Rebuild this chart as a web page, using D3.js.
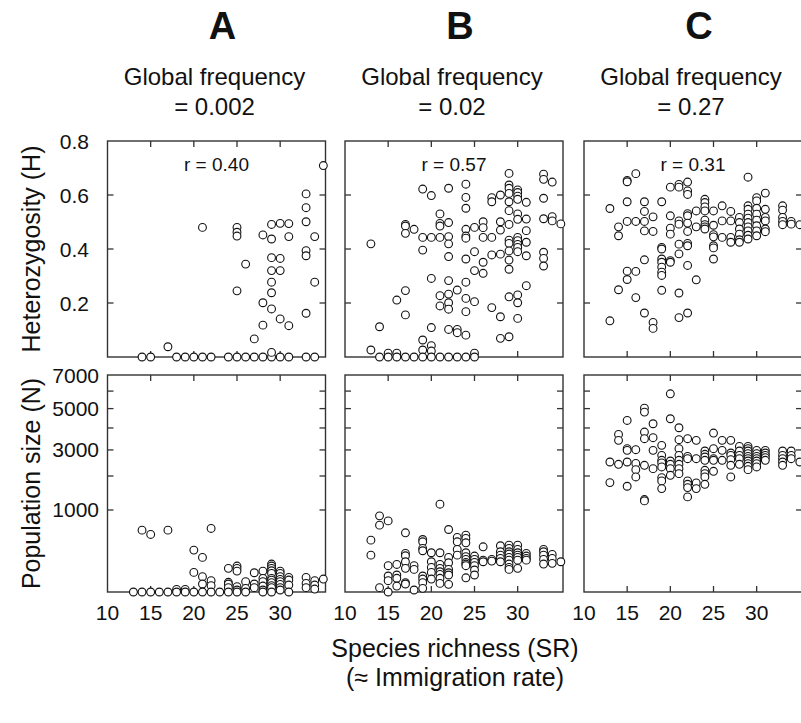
<!DOCTYPE html>
<html><head><meta charset="utf-8">
<script src="https://cdn.jsdelivr.net/npm/d3@7"></script>
<style>body{margin:0;background:#fff}text{font-family:"Liberation Sans",Arial,Helvetica,sans-serif;fill:#111}</style>
</head><body>
<svg id="c" width="801" height="723"></svg>
<script>
// ---------------- data ----------------
const panelLetters = ["A", "B", "C"];
const freqLabels = ["= 0.002", "= 0.02", "= 0.27"];
const rLabels = ["r = 0.40", "r = 0.57", "r = 0.31"];
const xTickValues = [10, 15, 20, 25, 30];
const hTickLabels = [0.2, 0.4, 0.6, 0.8];
const nTickLabels = [1000, 3000, 5000, 7000];
const nMinorTicks = [2000, 4000, 6000];

// Heterozygosity, [SR, H]
const hetA = [
 [14,0],[15,0],[17,0.038],[18,0],[19,0],[20,0],[21,0],[22,0],[21,0.48],
 [24,0],[25,0],[26,0],[27,0],[28,0],[29,0],[30,0],[31,0],[33,0],[34,0],
 [25,0.48],[25,0.462],[25,0.448],[25,0.245],[26,0.344],[27,0.067],
 [28,0.452],[28,0.201],[28,0.118],
 [29,0.491],[29,0.437],[29,0.368],[29,0.32],[29,0.277],[29,0.238],[29,0.178],[29,0.017],
 [30,0.495],[30,0.365],[30,0.32],[30,0.141],
 [31,0.494],[31,0.446],[31,0.116],
 [33,0.604],[33,0.553],[33,0.501],[33,0.394],[33,0.375],[33,0.162],
 [34,0.446],[34,0.277],[35,0.709]
];
const hetB = [
 [13,0.419],[13,0.026],[14,0.112],[14,0],[15,0.014],[15,0],[16,0.211],[16,0.014],[16,0],
 [17,0.491],[17,0.485],[17,0.458],[17,0.246],[17,0.156],[17,0],
 [18,0.473],[18,0],
 [19,0.622],[19,0.443],[19,0.396],[19,0.063],[19,0.026],[19,0],
 [20,0.598],[20,0.443],[20,0.291],[20,0.109],[20,0.042],[20,0.022],[20,0],
 [21,0.53],[21,0.495],[21,0.485],[21,0.443],[21,0.227],[21,0.189],[21,0],
 [22,0.625],[22,0.498],[22,0.446],[22,0.419],[22,0.372],[22,0.283],[22,0.233],[22,0.201],[22,0.177],[22,0.102],[22,0],
 [23,0.248],[23,0.102],[23,0.09],[23,0],
 [24,0.64],[24,0.591],[24,0.551],[24,0.473],[24,0.448],[24,0.44],[24,0.363],[24,0.277],[24,0.217],[24,0.168],[24,0.081],[24,0],
 [25,0.48],[25,0.39],[25,0.32],[25,0.205],[25,0.014],[25,0],
 [26,0.501],[26,0.479],[26,0.443],[26,0.351],[26,0.31],
 [27,0.59],[27,0.575],[27,0.443],[27,0.378],[27,0.183],
 [28,0.6],[28,0.501],[28,0.47],[28,0.381],[28,0.149],[28,0.069],
 [29,0.68],[29,0.637],[29,0.625],[29,0.606],[29,0.575],[29,0.542],[29,0.491],[29,0.433],[29,0.421],[29,0.393],[29,0.359],[29,0.325],[29,0.223],[29,0.075],
 [30,0.619],[30,0.609],[30,0.596],[30,0.584],[30,0.53],[30,0.51],[30,0.443],[30,0.431],[30,0.417],[30,0.406],[30,0.39],[30,0.23],[30,0.201],[30,0.143],
 [31,0.573],[31,0.511],[31,0.468],[31,0.425],[31,0.375],[31,0.264],
 [33,0.677],[33,0.658],[33,0.588],[33,0.512],[33,0.388],[33,0.365],[33,0.337],
 [34,0.648],[34,0.52],[34,0.504],[35,0.493]
];
const hetC = [
 [13,0.55],[13,0.134],[14,0.482],[14,0.449],[14,0.249],
 [15,0.654],[15,0.649],[15,0.575],[15,0.502],[15,0.318],[15,0.287],
 [16,0.679],[16,0.502],[16,0.317],[16,0.22],
 [17,0.575],[17,0.539],[17,0.502],[17,0.467],[17,0.36],[17,0.163],
 [18,0.519],[18,0.465],[18,0.128],[18,0.106],
 [19,0.575],[19,0.406],[19,0.4],[19,0.363],[19,0.351],[19,0.333],[19,0.314],[19,0.302],[19,0.247],
 [20,0.629],[20,0.523],[20,0.477],[20,0.455],[20,0.357],[20,0.351],
 [21,0.639],[21,0.629],[21,0.504],[21,0.492],[21,0.418],[21,0.382],[21,0.237],[21,0.146],
 [22,0.648],[22,0.615],[22,0.602],[22,0.531],[22,0.523],[22,0.496],[22,0.465],[22,0.421],[22,0.412],[22,0.339],[22,0.163],
 [23,0.541],[23,0.482],[23,0.286],
 [24,0.584],[24,0.572],[24,0.556],[24,0.541],[24,0.507],[24,0.49],[24,0.482],[24,0.474],
 [25,0.541],[25,0.488],[25,0.453],[25,0.445],[25,0.412],[25,0.404],[25,0.363],
 [26,0.56],[26,0.504],[26,0.443],
 [27,0.539],[27,0.504],[27,0.443],[27,0.425],
 [28,0.517],[28,0.498],[28,0.474],[28,0.455],[28,0.434],[28,0.425],
 [29,0.666],[29,0.56],[29,0.547],[29,0.529],[29,0.514],[29,0.498],[29,0.482],[29,0.467],[29,0.451],[29,0.437],
 [30,0.59],[30,0.578],[30,0.551],[30,0.529],[30,0.507],[30,0.486],[30,0.467],[30,0.449],
 [31,0.607],[31,0.547],[31,0.517],[31,0.504],[31,0.474],[31,0.464],
 [33,0.56],[33,0.544],[33,0.517],[33,0.502],[33,0.49],
 [34,0.502],[34,0.492],[35,0.49]
];

// Population size, [SR, N]
const popA = [
 [13,0],[14,569],[14,0],[15,492],[15,0],[16,0],[17,569],[17,0],[18,1],[18,0],[19,1],[19,0],
 [20,261],[20,57],[20,0],[21,178],[21,35],[21,9.5],[21,0],[22,600],[22,19],[22,6],[22,0],[23,0],
 [24,83],[24,14],[24,9.5],[24,2.8],[24,0],
 [25,100],[25,83],[25,65],[25,4.2],[25,0.6],[25,0],
 [26,15.8],[26,2],[26,0],[27,55],[27,9.5],[27,2.8],
 [28,65],[28,27.6],[28,15.8],[28,5.3],[28,0.6],[28,0],
 [29,116],[29,100],[29,83],[29,67],[29,51.5],[29,27.6],[29,21],[29,12.9],[29,6],[29,2.8],[29,0],
 [30,65],[30,51.5],[30,34.8],[30,23.7],[30,15.8],[30,8.7],[30,2.8],[30,0.6],
 [31,31.8],[31,21.3],[31,7.2],[31,0],
 [33,31.8],[33,11],[33,2.8],[34,19],[34,7.2],[34,1.3],[35,25]
];
const popB = [
 [13,400],[13,202],[14,862],[14,664],[14,2.8],
 [15,752],[15,103],[15,38],[15,19],[15,0],
 [16,113],[16,43],[16,28],[16,5.3],
 [17,521],[17,221],[17,195],[17,136],[17,83],[17,13],[17,9.5],
 [18,103],[18,76],[18,0.6],
 [19,410],[19,375],[19,282],[19,253],[19,38],[19,25],[19,13],[19,2],
 [20,229],[20,136],[20,90],[20,57],[20,25],
 [21,1146],[21,229],[21,113],[21,83],[21,61],[21,46],[21,28],[21,11],
 [22,581],[22,178],[22,127],[22,76],[22,55],[22,43],[22,8.7],
 [23,442],[23,375],[23,269],[23,202],
 [24,481],[24,426],[24,360],[24,229],[24,185],[24,158],[24,130],[24,116],[24,103],[24,30],
 [25,192],[25,158],[25,130],[25,103],[25,72],[25,43],
 [26,304],[26,151],[26,136],[27,158],[27,142],
 [28,318],[28,241],[28,202],[28,168],[28,136],
 [29,327],[29,282],[29,241],[29,214],[29,178],[29,151],[29,116],[29,90],[29,76],
 [30,327],[30,269],[30,229],[30,202],[30,178],[30,151],[30,83],
 [31,221],[31,192],[31,168],[31,151],
 [33,269],[33,241],[33,202],[33,158],[33,116],
 [34,210],[34,168],[34,122],[35,136]
];
const popC = [
 [13,2513],[13,1779],[14,3693],[14,3418],[14,2424],
 [15,4376],[15,3053],[15,2983],[15,2513],[15,1662],
 [16,3011],[16,2459],[16,2226],[16,1968],
 [17,5027],[17,4811],[17,3803],[17,3493],[17,2386],[17,1270],[17,1234],
 [18,4208],[18,3540],[18,2983],[18,2262],
 [19,3196],[19,2776],[19,2578],[19,2475],[19,2324],[19,1945],[19,1833],[19,1590],
 [20,5839],[20,4462],[20,2551],[20,2424],[20,2262],[20,2025],
 [21,4011],[21,3448],[21,3053],[21,2776],[21,2578],[21,2424],[21,2262],[21,2083],
 [22,3493],[22,2736],[22,2642],[22,1833],[22,1725],[22,1621],[22,1344],
 [23,3418],[23,2642],[23,1768],[23,1590],
 [24,2955],[24,2818],[24,2709],[24,2578],[24,2202],[24,2083],[24,1968],[24,1725],
 [25,3755],[25,3053],[25,2642],[25,2578],[25,2166],
 [26,3418],[26,2983],[26,2578],
 [27,3418],[27,2872],[27,2776],[27,2604],[27,2386],[27,1968],
 [28,3152],[28,2955],[28,2776],[28,2642],[28,2424],
 [29,3152],[29,3053],[29,2955],[29,2845],[29,2736],[29,2642],[29,2551],[29,2449],[29,2349],[29,2226],
 [30,2983],[30,2845],[30,2736],[30,2642],[30,2551],[30,2449],[30,2324],
 [31,2983],[31,2872],[31,2776],[31,2682],[31,2578],
 [33,2955],[33,2776],[33,2642],[33,2513],[33,2386],
 [34,2955],[34,2776],[34,2642],[35,2513]
];

// ---------------- drawing ----------------
const svg = d3.select("#c");
const panelLeft = [107.5, 345, 584];
const panelW = 218;
const xDomain = [10, 35.25];
const topRow = {y0: 141, y1: 357};
const botRow = {y0: 375, y1: 592};
const tickLen = 6;

const hetData = [hetA, hetB, hetC];
const popData = [popA, popB, popC];

function frame(g, x, y, xt, yt) {
  const [xa, xb] = x.range(), [ya, yb] = [y.range()[1], y.range()[0]];
  g.append("rect").attr("x", xa).attr("y", ya).attr("width", xb - xa).attr("height", yb - ya)
    .attr("fill", "none").attr("stroke", "#333").attr("stroke-width", 1.4);
  xt.forEach(v => {
    const px = x(v);
    g.append("line").attr("x1", px).attr("x2", px).attr("y1", yb).attr("y2", yb - tickLen).attr("stroke", "#333").attr("stroke-width", 1.3);
    g.append("line").attr("x1", px).attr("x2", px).attr("y1", ya).attr("y2", ya + tickLen).attr("stroke", "#333").attr("stroke-width", 1.3);
  });
  yt.forEach(v => {
    const py = y(v);
    g.append("line").attr("x1", xa).attr("x2", xa + tickLen).attr("y1", py).attr("y2", py).attr("stroke", "#333").attr("stroke-width", 1.3);
    g.append("line").attr("x1", xb).attr("x2", xb - tickLen).attr("y1", py).attr("y2", py).attr("stroke", "#333").attr("stroke-width", 1.3);
  });
}

function dots(g, data, x, y) {
  g.selectAll("circle.d").data(data).join("circle").attr("class", "d")
    .attr("cx", d => x(d[0])).attr("cy", d => y(d[1])).attr("r", 3.9)
    .attr("fill", "#fff").attr("stroke", "#111").attr("stroke-width", 1.1);
}

panelLeft.forEach((left, i) => {
  const x = d3.scaleLinear().domain(xDomain).range([left, left + panelW]);
  const yH = d3.scaleLinear().domain([0, 0.8]).range([topRow.y1, topRow.y0]);
  const yN = d3.scaleSqrt().domain([0, 7000]).range([botRow.y1, botRow.y0]);
  const cx = left + panelW / 2;

  // headings
  svg.append("text").attr("x", cx + 6).attr("y", 39).attr("text-anchor", "middle")
    .style("font-size", "38px").style("font-weight", "bold").text(panelLetters[i]);
  svg.append("text").attr("x", cx - 2).attr("y", 85).attr("text-anchor", "middle")
    .style("font-size", "24px").text("Global frequency");
  svg.append("text").attr("x", cx - 2).attr("y", 115).attr("text-anchor", "middle")
    .style("font-size", "24px").text(freqLabels[i]);

  const gt = svg.append("g");
  frame(gt, x, yH, xTickValues.slice(1), [0.2, 0.4, 0.6]);
  gt.append("text").attr("x", cx).attr("y", 171).attr("text-anchor", "middle")
    .style("font-size", "19px").text(rLabels[i]);
  dots(gt, hetData[i], x, yH);

  const gb = svg.append("g");
  frame(gb, x, yN, xTickValues.slice(1), nTickLabels.slice(0, 3).concat(nMinorTicks));
  dots(gb, popData[i], x, yN);

  // x tick labels
  xTickValues.forEach(v => {
    svg.append("text").attr("x", x(v)).attr("y", 620).attr("text-anchor", "middle")
      .style("font-size", "21px").text(v);
  });

  if (i === 0) {
    hTickLabels.forEach(v => {
      svg.append("text").attr("x", 89).attr("y", yH(v) + 7.5).attr("text-anchor", "end")
        .style("font-size", "21px").text(v.toFixed(1));
    });
    nTickLabels.forEach(v => {
      svg.append("text").attr("x", 99).attr("y", yN(v) + 7.5).attr("text-anchor", "end")
        .style("font-size", "21px").text(v);
    });
    svg.append("text").attr("transform", `translate(40,${(topRow.y0 + topRow.y1) / 2}) rotate(-90)`)
      .attr("text-anchor", "middle").style("font-size", "25px").text("Heterozygosity (H)");
    svg.append("text").attr("transform", `translate(40,${(botRow.y0 + botRow.y1) / 2}) rotate(-90)`)
      .attr("text-anchor", "middle").style("font-size", "25px").text("Population size (N)");
  }
});

svg.append("text").attr("x", 455).attr("y", 657).attr("text-anchor", "middle")
  .style("font-size", "25px").text("Species richness (SR)");
svg.append("text").attr("x", 455).attr("y", 686).attr("text-anchor", "middle")
  .style("font-size", "25px").text("(\u2248 Immigration rate)");
</script>
</body></html>
